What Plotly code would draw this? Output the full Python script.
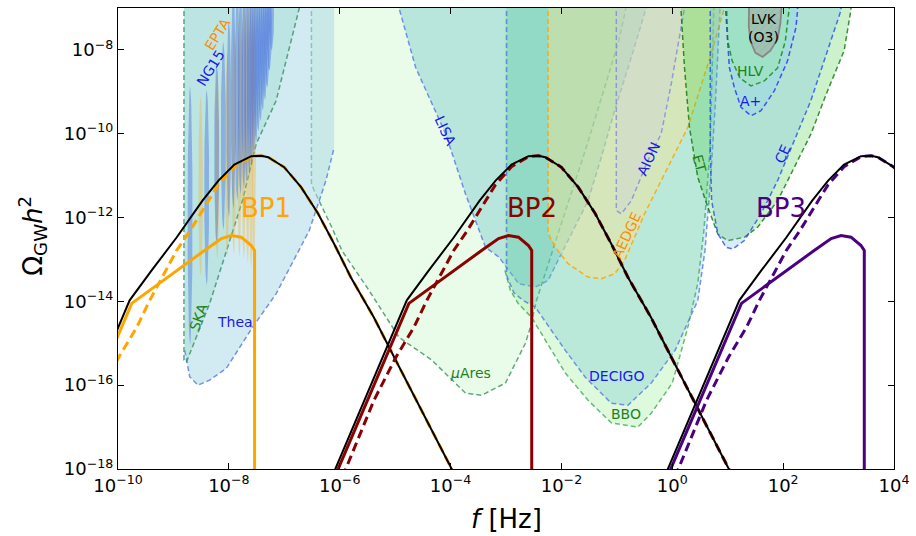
import numpy as np
import plotly.graph_objects as go

# ---------------- data: log10(f/Hz), log10(Omega_GW h^2) ----------------
# sensitivity regions (boundary curves)
ska_lf = [-8.81, -8.81, -8.765, -8.347, -7.753, -7.507, -7.148, -6.729, -6.60]
ska_lo = [-6.5, -15.40, -15.445, -14.055, -11.595, -10.245, -9.214, -7.0, -6.5]

thea_lf = [-8.81, -8.796, -8.706, -8.557, -8.347, -8.046, -7.568, -7.148, -6.549, -6.249, -6.10, -6.10]
thea_lo = [-6.5, -15.17, -15.80, -16.0, -15.88, -15.60, -14.61, -13.82, -12.31, -11.12, -10.33, -6.5]

mares_lf = [-6.51, -6.51, -6.46, -6.37, -6.14, -5.96, -5.47, -4.93, -4.34, -3.73, -3.44, -3.01,
            -2.65, -2.56, -2.45, -2.16, -1.57, -0.98, -0.83, -0.75]
mares_lo = [-6.5, -11.19, -11.36, -11.6, -12.24, -12.79, -13.74, -14.86, -15.40, -16.19, -16.24, -15.95,
            -15.0, -14.62, -13.98, -12.79, -10.40, -7.86, -7.0, -6.5]

lisa_lf = [-5.05, -4.93, -4.63, -4.09, -3.73, -3.49, -3.37, -3.13, -2.77, -2.47, -2.24, -2.06,
           -1.76, -1.52, -1.28, -1.04, -0.74, -0.47, -0.42]
lisa_lo = [-6.5, -7.0, -8.42, -10.0, -11.44, -12.31, -12.71, -12.94, -13.58, -13.66, -13.5, -13.02,
           -12.23, -11.6, -10.56, -9.45, -8.18, -7.0, -6.5]

decigo_lf = [-2.99, -2.99, -2.86, -2.69, -2.47, -1.93, -1.57, -1.10, -0.80, -0.38, 0.05, 0.46,
             0.59, 0.69, 0.78, 0.86, 0.88]
decigo_lo = [-6.5, -13.38, -13.79, -13.98, -14.14, -15.17, -15.81, -16.43, -16.48, -15.95, -15.17, -13.98,
             -12.79, -11.12, -9.21, -7.0, -6.5]

bbo_lf = [-3.02, -3.02, -2.92, -2.78, -2.54, -1.93, -1.52, -1.10, -0.62, -0.38, 0.0, 0.28,
          0.46, 0.57, 0.68, 0.75, 0.77]
bbo_lo = [-6.5, -13.26, -13.74, -14.05, -14.38, -15.71, -16.36, -16.90, -17.0, -16.67, -15.95, -14.62,
          -13.57, -12.31, -10.40, -7.0, -6.5]

aedge_lf = [-2.24, -2.24, -2.11, -1.88, -1.52, -1.28, -1.04, -0.86, -0.50, 0.28, 0.70, 0.94, 1.0]
aedge_lo = [-6.5, -12.38, -12.71, -13.10, -13.42, -13.46, -13.34, -13.02, -11.91, -9.85, -8.10, -7.0, -6.5]

aion_lf = [-1.01, -1.01, -0.92, -0.74, -0.44, -0.20, -0.02, 0.13, 0.22, 0.25]
aion_lo = [-6.5, -11.83, -11.91, -11.6, -10.64, -10.0, -8.82, -7.63, -7.0, -6.5]

et_lf = [0.155, 0.155, 0.22, 0.31, 0.46, 0.64, 0.82, 1.0, 1.30, 1.54, 1.90, 2.20, 2.50, 2.80, 3.10, 3.22, 3.25]
et_lo = [-6.5, -7.0, -8.42, -9.85, -11.04, -11.75, -12.39, -12.55, -12.47, -12.23, -11.6, -10.80,
         -10.01, -8.98, -8.02, -7.07, -6.5]

ce_lf = [0.685, 0.685, 0.71, 0.82, 0.97, 1.09, 1.30, 1.60, 1.90, 2.20, 2.50, 2.80, 3.04, 3.08]
ce_lo = [-6.5, -10.40, -11.6, -12.38, -12.71, -12.75, -12.55, -11.91, -11.12, -10.17, -9.21, -8.02, -7.07, -6.5]

aplus_lf = [0.96, 0.96, 1.03, 1.12, 1.24, 1.42, 1.60, 1.84, 2.08, 2.23, 2.26, 2.27]
aplus_lo = [-6.5, -7.0, -8.42, -8.90, -9.37, -9.57, -9.45, -8.98, -8.26, -7.47, -7.07, -6.5]

hlv_lf = [0.98, 0.98, 1.0, 1.08, 1.22, 1.42, 1.66, 1.90, 2.04, 2.11, 2.12]
hlv_lo = [-6.5, -7.0, -7.79, -8.26, -8.67, -8.86, -8.74, -8.43, -7.79, -7.0, -6.5]

lvk_lf = [1.39, 1.39, 1.38, 1.41, 1.50, 1.63, 1.77, 1.90, 1.95, 1.97, 1.97]
lvk_lo = [-6.5, -7.0, -7.43, -7.79, -8.07, -8.17, -8.02, -7.74, -7.36, -7.0, -6.5]

# PTA violins: bin frequency, upper and lower ends
ng15_lf = [-8.70, -8.40, -8.22, -8.10, -8.00, -7.92, -7.85, -7.79, -7.73, -7.68, -7.63,
           -7.59, -7.55, -7.51, -7.47, -7.43, -7.39, -7.35, -7.31, -7.27, -7.23]
ng15_top = [-8.86, -8.95, -8.3, -7.8, -7.3, -6.5, -6.5, -6.5, -6.5, -6.5, -6.5,
            -6.5, -6.5, -6.5, -6.5, -6.5, -6.5, -6.5, -6.5, -6.5, -6.5]
ng15_bot = [-15.05, -13.62, -12.67, -12.3, -12.0, -11.8, -11.6, -11.45, -11.3, -11.15, -11.0,
            -10.8, -10.5, -10.2, -9.95, -9.7, -9.45, -9.2, -8.9, -8.5, -8.0]

epta_lf = [-8.51, -8.21, -8.03, -7.91, -7.81, -7.73, -7.66, -7.60, -7.55]
epta_top = [-9.1, -8.5, -8.0, -7.5, -7.0, -6.5, -6.5, -6.5, -6.5]
epta_bot = [-13.4, -13.0, -12.95, -12.9, -12.95, -13.0, -13.1, -13.2, -13.3]

# benchmark point spectra
bp1_tot_lf = [-11.24, -11.08, -10.435, -9.79, -9.393, -8.943, -8.476, -8.188, -7.901, -7.595, -7.415,
              -7.290, -7.002, -6.697, -6.391, -6.104, -5.798, -5.385, -4.989, -4.594, -3.983, -3.785]
bp2_tot_lf = [-6.24, -6.08, -5.435, -4.79, -4.393, -3.943, -3.476, -3.188, -2.901, -2.595, -2.415,
              -2.290, -2.002, -1.697, -1.391, -1.104, -0.798, -0.385, 0.011, 0.406, 1.017, 1.215]
bp3_tot_lf = [-0.24, -0.08, 0.565, 1.21, 1.607, 2.057, 2.524, 2.812, 3.099, 3.405, 3.585,
              3.710, 3.998, 4.303, 4.609, 4.896, 5.202, 5.615, 6.011, 6.406, 7.017, 7.215]
bp_tot_lo = [-18.5, -18.0, -16.0, -13.976, -13.262, -12.476, -11.595, -11.119, -10.738, -10.536, -10.524,
             -10.560, -10.798, -11.274, -11.905, -12.619, -13.429, -14.381, -15.405, -16.429, -18.0, -18.5]

bp1_dash_lf = [-11.046, -10.892, -10.381, -9.986, -9.662, -9.428, -8.943, -8.709, -8.476, -8.188, -7.901, -7.595,
               -7.415, -7.290, -7.002, -6.697, -6.391, -6.104, -5.798, -5.385, -4.989, -4.594, -3.983, -3.785]
bp2_dash_lf = [-6.046, -5.892, -5.381, -4.986, -4.662, -4.428, -3.943, -3.709, -3.476, -3.188, -2.901, -2.595,
               -2.415, -2.290, -2.002, -1.697, -1.391, -1.104, -0.798, -0.385, 0.011, 0.406, 1.017, 1.215]
bp3_dash_lf = [-0.046, 0.108, 0.619, 1.014, 1.338, 1.572, 2.057, 2.291, 2.524, 2.812, 3.099, 3.405,
               3.585, 3.710, 3.998, 4.303, 4.609, 4.896, 5.202, 5.615, 6.011, 6.406, 7.017, 7.215]
bp_dash_lo = [-18.5, -18.0, -16.357, -15.333, -14.619, -13.976, -12.786, -12.333, -11.833, -11.214, -10.786, -10.548,
              -10.524, -10.560, -10.798, -11.274, -11.905, -12.619, -13.429, -14.381, -15.405, -16.429, -18.0, -18.5]

bp1_sol_lf = [-11.19, -11.028, -9.752, -8.440, -8.134, -7.955, -7.775, -7.595, -7.536, -7.536]
bp2_sol_lf = [-6.19, -6.028, -4.752, -3.440, -3.134, -2.955, -2.775, -2.595, -2.536, -2.536]
bp3_sol_lf = [-0.19, -0.028, 1.248, 2.560, 2.866, 3.045, 3.225, 3.405, 3.464, 3.464]
bp_sol_lo = [-18.5, -18.0, -14.048, -12.786, -12.5, -12.429, -12.469, -12.667, -12.786, -18.5]

x_tick_exp = [-10, -8, -6, -4, -2, 0, 2, 4]
y_tick_exp = [-18, -16, -14, -12, -10, -8]

FONT = "DejaVu Sans"


def P(a):
    return 10 ** np.asarray(a, dtype=float)


fig = go.Figure()


def add_region(lf, lo, fill, line, start=0, stop=None, dash="5px,3px", width=1.5):
    fig.add_trace(go.Scatter(x=P(lf), y=P(lo), mode="lines", fill="toself", fillcolor=fill,
                             line=dict(width=0), hoverinfo="skip", showlegend=False))
    xs = P(lf)[start:stop]
    ys = P(lo)[start:stop]
    fig.add_trace(go.Scatter(x=xs, y=ys, mode="lines",
                             line=dict(color=line, width=width, dash=dash),
                             hoverinfo="skip", showlegend=False))


GREEN_L = "rgba(46,139,87,0.75)"
BLUE_L = "rgba(65,105,225,0.7)"

add_region(mares_lf, mares_lo, "rgba(144,238,144,0.2)", GREEN_L)
add_region(thea_lf, thea_lo, "rgba(173,216,230,0.55)", BLUE_L, 1, 11)
add_region(ska_lf, ska_lo, "rgba(102,205,170,0.2)", GREEN_L)
add_region(lisa_lf, lisa_lo, "rgba(72,178,196,0.3)", BLUE_L)
add_region(bbo_lf, bbo_lo, "rgba(144,238,144,0.3)", "rgba(46,160,70,0.7)", 1)
add_region(decigo_lf, decigo_lo, "rgba(50,165,205,0.2)", BLUE_L)
add_region(aedge_lf, aedge_lo, "rgba(255,228,140,0.4)", "rgba(255,165,0,0.85)")
add_region(aion_lf, aion_lo, "rgba(200,195,240,0.22)", "rgba(100,110,230,0.6)")
add_region(et_lf, et_lo, "rgba(50,205,50,0.25)", "rgba(0,110,0,0.75)")
add_region(ce_lf, ce_lo, "rgba(100,180,230,0.25)", "rgba(30,70,235,0.75)")
add_region(aplus_lf, aplus_lo, "rgba(135,206,250,0.3)", "rgba(20,40,240,0.75)")
add_region(hlv_lf, hlv_lo, "rgba(144,238,144,0.3)", "rgba(0,128,0,0.75)")

# LVK O3 (hatched, solid grey border)
fig.add_trace(go.Scatter(x=P(lvk_lf), y=P(lvk_lo), mode="lines", fill="toself",
                         fillcolor="rgba(150,155,150,0.5)",
                         fillpattern=dict(shape="/", fgcolor="rgba(100,100,100,0.5)",
                                          bgcolor="rgba(160,165,160,0.5)", size=5, solidity=0.12),
                         line=dict(color="rgb(135,135,135)", width=1.8),
                         hoverinfo="skip", showlegend=False))


def add_violins(lfs, tops, bots, hw, color):
    s = np.linspace(0, 1, 41)
    for c, t, b in zip(lfs, tops, bots):
        yv = b + (t - b) * s
        w = hw * np.sqrt(np.sin(np.pi * s))
        xs = np.concatenate([c - w, (c + w)[::-1]])
        ys = np.concatenate([yv, yv[::-1]])
        fig.add_trace(go.Scatter(x=P(xs), y=P(ys), mode="lines", fill="toself", fillcolor=color,
                                 line=dict(width=0), hoverinfo="skip", showlegend=False))


add_violins(epta_lf, epta_top, epta_bot, 0.04, "rgba(240,180,60,0.4)")
add_violins(ng15_lf, ng15_top, ng15_bot, 0.045, "rgba(65,105,225,0.42)")


def add_bp(tot_lf, dash_lf, sol_lf, color):
    fig.add_trace(go.Scatter(x=P(sol_lf), y=P(bp_sol_lo), mode="lines",
                             line=dict(color=color, width=3), hoverinfo="skip", showlegend=False))
    fig.add_trace(go.Scatter(x=P(dash_lf), y=P(bp_dash_lo), mode="lines",
                             line=dict(color=color, width=3, dash="9px,5px"),
                             hoverinfo="skip", showlegend=False))
    fig.add_trace(go.Scatter(x=P(tot_lf), y=P(bp_tot_lo), mode="lines",
                             line=dict(color="black", width=2), hoverinfo="skip", showlegend=False))


add_bp(bp1_tot_lf, bp1_dash_lf, bp1_sol_lf, "orange")
add_bp(bp2_tot_lf, bp2_dash_lf, bp2_sol_lf, "#8B0000")
add_bp(bp3_tot_lf, bp3_dash_lf, bp3_sol_lf, "#4B0082")

# labels
GREEN_T = "rgb(30,130,30)"
BLUE_T = "rgb(25,25,235)"
ORANGE_T = "rgb(255,140,0)"
labels = [
    ("BP1", -7.328, -11.774, 0, "orange", 26),
    ("BP2", -2.536, -11.774, 0, "#8B0000", 26),
    ("BP3", 1.957, -11.774, 0, "#4B0082", 26),
    ("LISA", -4.09, -9.93, 65, BLUE_T, 14),
    ("<i>μ</i>Ares", -3.64, -15.71, 0, GREEN_T, 14),
    ("DECIGO", -1.01, -15.79, 0, BLUE_T, 14),
    ("BBO", -0.83, -16.69, 0, GREEN_T, 14),
    ("AEDGE", -0.834, -12.43, -65, ORANGE_T, 14),
    ("AION", -0.43, -10.60, -65, BLUE_T, 14),
    ("ET", 0.478, -10.71, 75, GREEN_T, 14),
    ("CE", 1.988, -10.48, -65, BLUE_T, 14),
    ("HLV", 1.413, -8.50, 0, GREEN_T, 14),
    ("A+", 1.413, -9.21, 0, BLUE_T, 14),
    ("LVK<br>(O3)", 1.646, -7.476, 0, "black", 14),
    ("SKA", -8.544, -14.38, -70, GREEN_T, 14),
    ("Thea", -7.897, -14.5, 0, BLUE_T, 14),
    ("NG15", -8.329, -8.43, -58, BLUE_T, 14),
    ("EPTA", -8.203, -7.62, -58, ORANGE_T, 14),
]
for txt, lx, ly, ang, col, sz in labels:
    fig.add_annotation(x=lx, y=ly, xref="x", yref="y", text=txt, showarrow=False,
                       textangle=ang, font=dict(family=FONT, size=sz, color=col),
                       xanchor="center", yanchor="middle")

fig.add_annotation(x=(32 - 118) / 779, y=(469 - 235) / 462, xref="paper", yref="paper",
                   text="Ω<sub>GW</sub><i>h</i><sup>2</sup>", showarrow=False, textangle=-90,
                   font=dict(family=FONT, size=26, color="black"), xanchor="center", yanchor="middle")
fig.add_annotation(x=0.5, y=(469 - 519) / 462, xref="paper", yref="paper",
                   text="<i>f</i> [Hz]", showarrow=False,
                   font=dict(family=FONT, size=26, color="black"), xanchor="center", yanchor="middle")


def tt(e):
    return "10<sup>" + (str(e) if e >= 0 else "−" + str(-e)) + "</sup>"


axis_common = dict(type="log", showgrid=False, zeroline=False, showline=True, linecolor="black",
                   linewidth=1.3, mirror="ticks", ticks="inside", ticklen=6, tickwidth=1.2,
                   tickcolor="black", tickfont=dict(family=FONT, size=18, color="black"))
fig.update_xaxes(range=[-10, 4], tickvals=[10.0 ** e for e in x_tick_exp],
                 ticktext=[tt(e) for e in x_tick_exp], **axis_common)
fig.update_yaxes(range=[-18, -7], tickvals=[10.0 ** e for e in y_tick_exp],
                 ticktext=[tt(e) for e in y_tick_exp], **axis_common)

fig.update_layout(width=916, height=536, margin=dict(l=118, r=19, t=7, b=67),
                  paper_bgcolor="white", plot_bgcolor="white", showlegend=False,
                  font=dict(family=FONT))
fig.write_html("out.html", config={"displayModeBar": False},
               post_script="document.body.style.margin='0px';document.body.style.overflow='hidden';")
